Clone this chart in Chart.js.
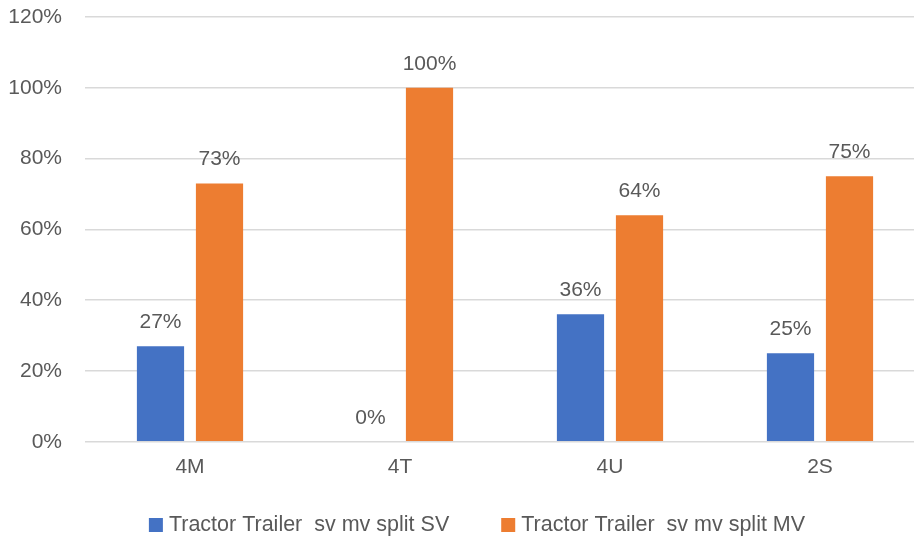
<!DOCTYPE html>
<html>
<head>
<meta charset="utf-8">
<script src="https://cdn.jsdelivr.net/npm/chart.js@4"></script>
<style>
  html, body { margin: 0; padding: 0; background: #fff; overflow: hidden; }
  #wrap { position: relative; width: 930px; height: 538px; }
</style>
</head>
<body>
<div id="wrap"><canvas id="chart"></canvas></div>
<script>
const categories = ["4M", "4T", "4U", "2S"];
const svValues = [27, 0, 36, 25];
const mvValues = [73, 100, 64, 75];
const seriesNames = ["Tractor Trailer  sv mv split SV", "Tractor Trailer  sv mv split MV"];
const seriesColors = ["#4472C4", "#ED7D31"];

const textColor = "#595959";
const fontFamily = "'Liberation Sans', Arial, sans-serif";

// draws the % labels above each bar
const barLabels = {
  id: "barLabels",
  afterDatasetsDraw(chart) {
    const ctx = chart.ctx;
    ctx.save();
    ctx.font = "21px " + fontFamily;
    ctx.fillStyle = textColor;
    ctx.textAlign = "center";
    ctx.textBaseline = "middle";
    chart.data.datasets.forEach((ds, i) => {
      chart.getDatasetMeta(i).data.forEach((bar, j) => {
        ctx.fillText(ds.data[j] + "%", bar.x, bar.y - 24);
      });
    });
    ctx.restore();
  }
};

// legend at the bottom, Excel style (small square, wide gap between items)
const bottomLegend = {
  id: "bottomLegend",
  afterDraw(chart) {
    const ctx = chart.ctx;
    ctx.save();
    ctx.font = "21.5px " + fontFamily;
    ctx.textBaseline = "middle";
    const box = 14, gap = 6, between = 52, y = 525;
    const widths = seriesNames.map(n => ctx.measureText(n).width);
    const total = widths.reduce((a, w) => a + box + gap + w, 0) + between * (seriesNames.length - 1);
    let x = 477 - total / 2;
    seriesNames.forEach((name, i) => {
      ctx.fillStyle = seriesColors[i];
      ctx.fillRect(x, y - box / 2, box, box);
      ctx.fillStyle = textColor;
      ctx.fillText(name, x + box + gap, y);
      x += box + gap + widths[i] + between;
    });
    ctx.restore();
  }
};

new Chart(document.getElementById("chart"), {
  type: "bar",
  data: {
    labels: categories,
    datasets: [
      { label: seriesNames[0], data: svValues, backgroundColor: seriesColors[0] },
      { label: seriesNames[1], data: mvValues, backgroundColor: seriesColors[1] }
    ]
  },
  options: {
    responsive: true,
    maintainAspectRatio: false,
    animation: false,
    categoryPercentage: 0.562,
    barPercentage: 0.8,
    layout: { padding: { left: 8, right: 5, top: 17, bottom: 45 } },
    scales: {
      x: {
        grid: { display: false, drawTicks: false },
        border: { display: false },
        ticks: { color: textColor, font: { size: 21, family: fontFamily }, padding: 13 }
      },
      y: {
        min: 0,
        max: 120,
        afterFit(scale) { scale.width = 77; },
        grid: { color: "#D9D9D9", lineWidth: 1.5, drawTicks: true, tickLength: 23, tickColor: "rgba(0,0,0,0)" },
        border: { display: false },
        ticks: {
          stepSize: 20,
          padding: 0,
          color: textColor,
          font: { size: 21, family: fontFamily },
          callback: v => v + "%"
        }
      }
    },
    plugins: {
      legend: { display: false },
      tooltip: { enabled: false }
    }
  },
  plugins: [barLabels, bottomLegend]
});
</script>
</body>
</html>
